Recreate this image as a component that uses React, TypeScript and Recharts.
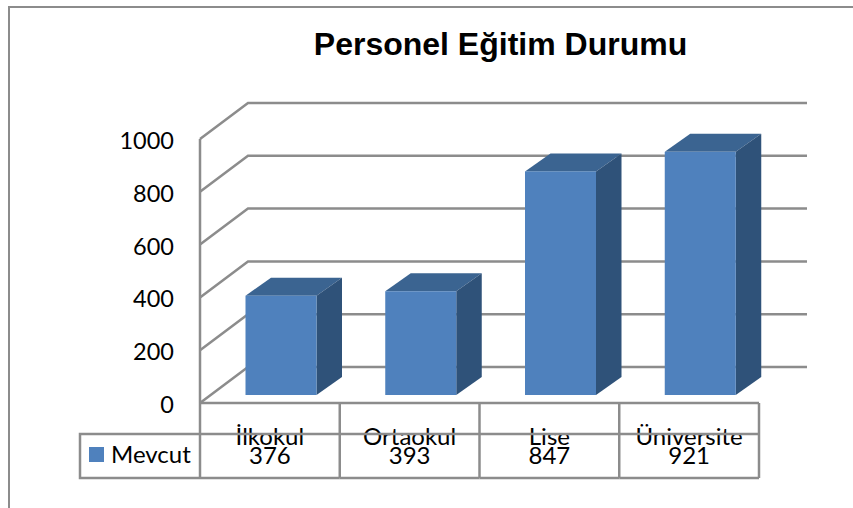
import React from "react";
import { BarChart, Bar, XAxis, YAxis, CartesianGrid } from "recharts";

const categories = ["İlkokul", "Ortaokul", "Lise", "Üniversite"];
const mevcut = [376, 393, 847, 921];
const yTicks = [0, 200, 400, 600, 800, 1000];
const seriesName = "Mevcut";
const chartTitle = "Personel Eğitim Durumu";
const data = categories.map((name, i) => ({ name, value: mevcut[i] }));

const FONT = "Lato, sans-serif";
const LINE = "#8c8c8c";
const LW = 2.5;
const FRONT = "#4f81bd";
const TOP = "#3b6491";
const SIDE = "#2f5279";
const DX = 48;
const DY = 36;

function GridLine(props: any) {
  const { x1, x2, y1 } = props;
  return (
    <path
      d={`M${x1},${y1}L${x1 + DX},${y1 - DY}L${x2 + DX},${y1 - DY}`}
      fill="none"
      stroke={LINE}
      strokeWidth={LW}
    />
  );
}

function Bar3D(props: any) {
  const { x, y, width, height } = props;
  const l = x + 11.5;
  const r = l + width;
  const t = y - 8;
  const b = t + height;
  const dx = 25.5;
  const dy = 18;
  return (
    <g>
      <polygon points={`${l},${t} ${l + dx},${t - dy} ${r + dx},${t - dy} ${r},${t}`} fill={TOP} />
      <polygon points={`${r},${t} ${r + dx},${t - dy} ${r + dx},${b - dy} ${r},${b}`} fill={SIDE} />
      <rect x={l} y={t} width={width} height={height} fill={FRONT} />
    </g>
  );
}

function TableTick(props: any) {
  const { x, y, payload, index, width } = props;
  const band = (width || 559) / categories.length;
  const left = x - band / 2;
  const right = x + band / 2;
  const rowTop = y + 31;
  const rowBottom = y + 75;
  const last = index === categories.length - 1;
  return (
    <g fontFamily={FONT} fontSize={24} fill="#000">
      <text x={x} y={y + 42} textAnchor="middle" fill="#000">{payload.value}</text>
      <text x={x} y={y + 61} textAnchor="middle" fill="#000">{mevcut[index]}</text>
      <line x1={left} x2={left} y1={y} y2={rowBottom} stroke={LINE} strokeWidth={LW} />
      {last && <line x1={right} x2={right} y1={y} y2={rowBottom} stroke={LINE} strokeWidth={LW} />}
      <line x1={left} x2={right} y1={rowTop} y2={rowTop} stroke={LINE} strokeWidth={LW} />
      <line x1={left} x2={right} y1={rowBottom} y2={rowBottom} stroke={LINE} strokeWidth={LW} />
      {index === 0 && (
        <g>
          <path
            d={`M${left},${rowTop}H${left - 120}V${rowBottom}H${left}`}
            fill="none"
            stroke={LINE}
            strokeWidth={LW}
          />
          <rect x={left - 111} y={rowTop + 13} width={15} height={15} fill={FRONT} />
          <text x={left - 89} y={rowTop + 29} fill="#000">{seriesName}</text>
        </g>
      )}
    </g>
  );
}

function YTick(props: any) {
  const { x, y, payload } = props;
  return (
    <text x={x} y={y + 10} textAnchor="end" fontFamily={FONT} fontSize={23.5} fill="#000">
      {payload.value}
    </text>
  );
}

export default function App() {
  return (
    <div style={{ position: "fixed", left: 0, top: 0, width: 853, height: 508, background: "#fff", overflow: "hidden" }}>
      <div
        style={{
          position: "absolute",
          left: 8,
          top: 6,
          right: 0,
          bottom: 0,
          borderLeft: `2.5px solid ${LINE}`,
          borderTop: `2.5px solid ${LINE}`,
        }}
      />
      <div
        style={{
          position: "absolute",
          left: 200,
          width: 601,
          top: 25,
          textAlign: "center",
          fontFamily: "'Liberation Sans', Arial, sans-serif",
          fontWeight: 700,
          fontSize: 32,
          lineHeight: "38px",
          color: "#000",
        }}
      >
        {chartTitle}
      </div>
      <BarChart
        width={853}
        height={508}
        data={data}
        margin={{ top: 139, right: 94, bottom: 30, left: 140 }}
        barSize={71}
        style={{ position: "absolute", left: 0, top: 0 }}
      >
        <CartesianGrid vertical={false} horizontal={(p: any) => <GridLine key={p.key ?? p.index} {...p} />} />
        <XAxis
          dataKey="name"
          height={75}
          interval={0}
          tickLine={false}
          tickSize={0}
          tickMargin={0}
          axisLine={{ stroke: LINE, strokeWidth: LW }}
          tick={(p: any) => <TableTick {...p} />}
        />
        <YAxis
          width={60}
          domain={[0, 1000]}
          ticks={yTicks}
          interval={0}
          tickLine={false}
          tickSize={0}
          tickMargin={26}
          axisLine={{ stroke: LINE, strokeWidth: LW }}
          tick={(p: any) => <YTick {...p} />}
        />
        <Bar dataKey="value" name={seriesName} isAnimationActive={false} shape={(p: any) => <Bar3D {...p} />} />
      </BarChart>
    </div>
  );
}
